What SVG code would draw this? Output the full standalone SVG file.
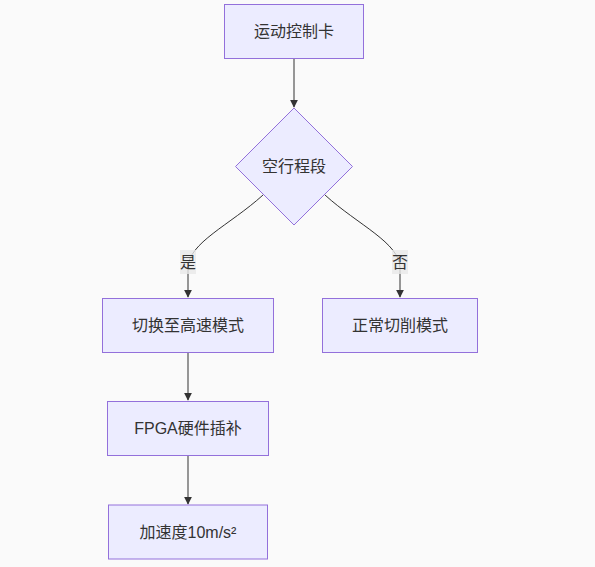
<svg xmlns="http://www.w3.org/2000/svg" width="595" height="567" viewBox="0 0 595 567">
<style>
.node rect,.node polygon{fill:#ECECFF;stroke:#9370DB;stroke-width:1}
text{font-family:"Liberation Sans","Noto Sans CJK SC",sans-serif;font-size:16px;fill:#333;text-anchor:middle;dominant-baseline:central}
.edge{fill:none;stroke:#333;stroke-width:1}
.lbl{fill:#e8e8e8;opacity:0.8}
</style>
<defs>
<marker id="arr" viewBox="0 0 10 10" refX="9" refY="5" markerWidth="8" markerHeight="8" markerUnits="userSpaceOnUse" orient="auto">
<path d="M0,0 L10,5 L0,10 z" fill="#333"/>
</marker>
</defs>
<rect width="595" height="567" fill="#fafafa"/>
<g id="connectors">
<path class="edge" d="M294,58.5 L294,107" marker-end="url(#arr)"/>
<path class="edge" d="M263,195 C230,225 188,243 188,268 L188,297" marker-end="url(#arr)"/>
<path class="edge" d="M325,195 C358,225 400,243 400,268 L400,297" marker-end="url(#arr)"/>
<path class="edge" d="M188,352.5 L188,400" marker-end="url(#arr)"/>
<path class="edge" d="M188,455.5 L188,504" marker-end="url(#arr)"/>
<rect class="lbl" x="180" y="250" width="16" height="24"/>
<text x="188" y="262">是</text>
<rect class="lbl" x="392" y="250" width="16" height="24"/>
<text x="400" y="262">否</text>
</g>
<g id="n1" class="node"><rect x="224.5" y="4.5" width="139" height="54"/><text x="294" y="31.5">运动控制卡</text></g>
<g id="n2" class="node"><polygon points="294,108 352.5,166.5 294,225 235.5,166.5"/><text x="294" y="166.5">空行程段</text></g>
<g id="n3" class="node"><rect x="102.5" y="298.5" width="171" height="54"/><text x="188" y="325.5">切换至高速模式</text></g>
<g id="n4" class="node"><rect x="322.5" y="298.5" width="155" height="54"/><text x="400" y="325.5">正常切削模式</text></g>
<g id="n5" class="node"><rect x="107.5" y="401.5" width="161" height="54"/><text x="188" y="428.5">FPGA硬件插补</text></g>
<g id="n6" class="node"><rect x="108.5" y="505" width="159" height="54"/><text x="188" y="532">加速度10m/s²</text></g>
</svg>
